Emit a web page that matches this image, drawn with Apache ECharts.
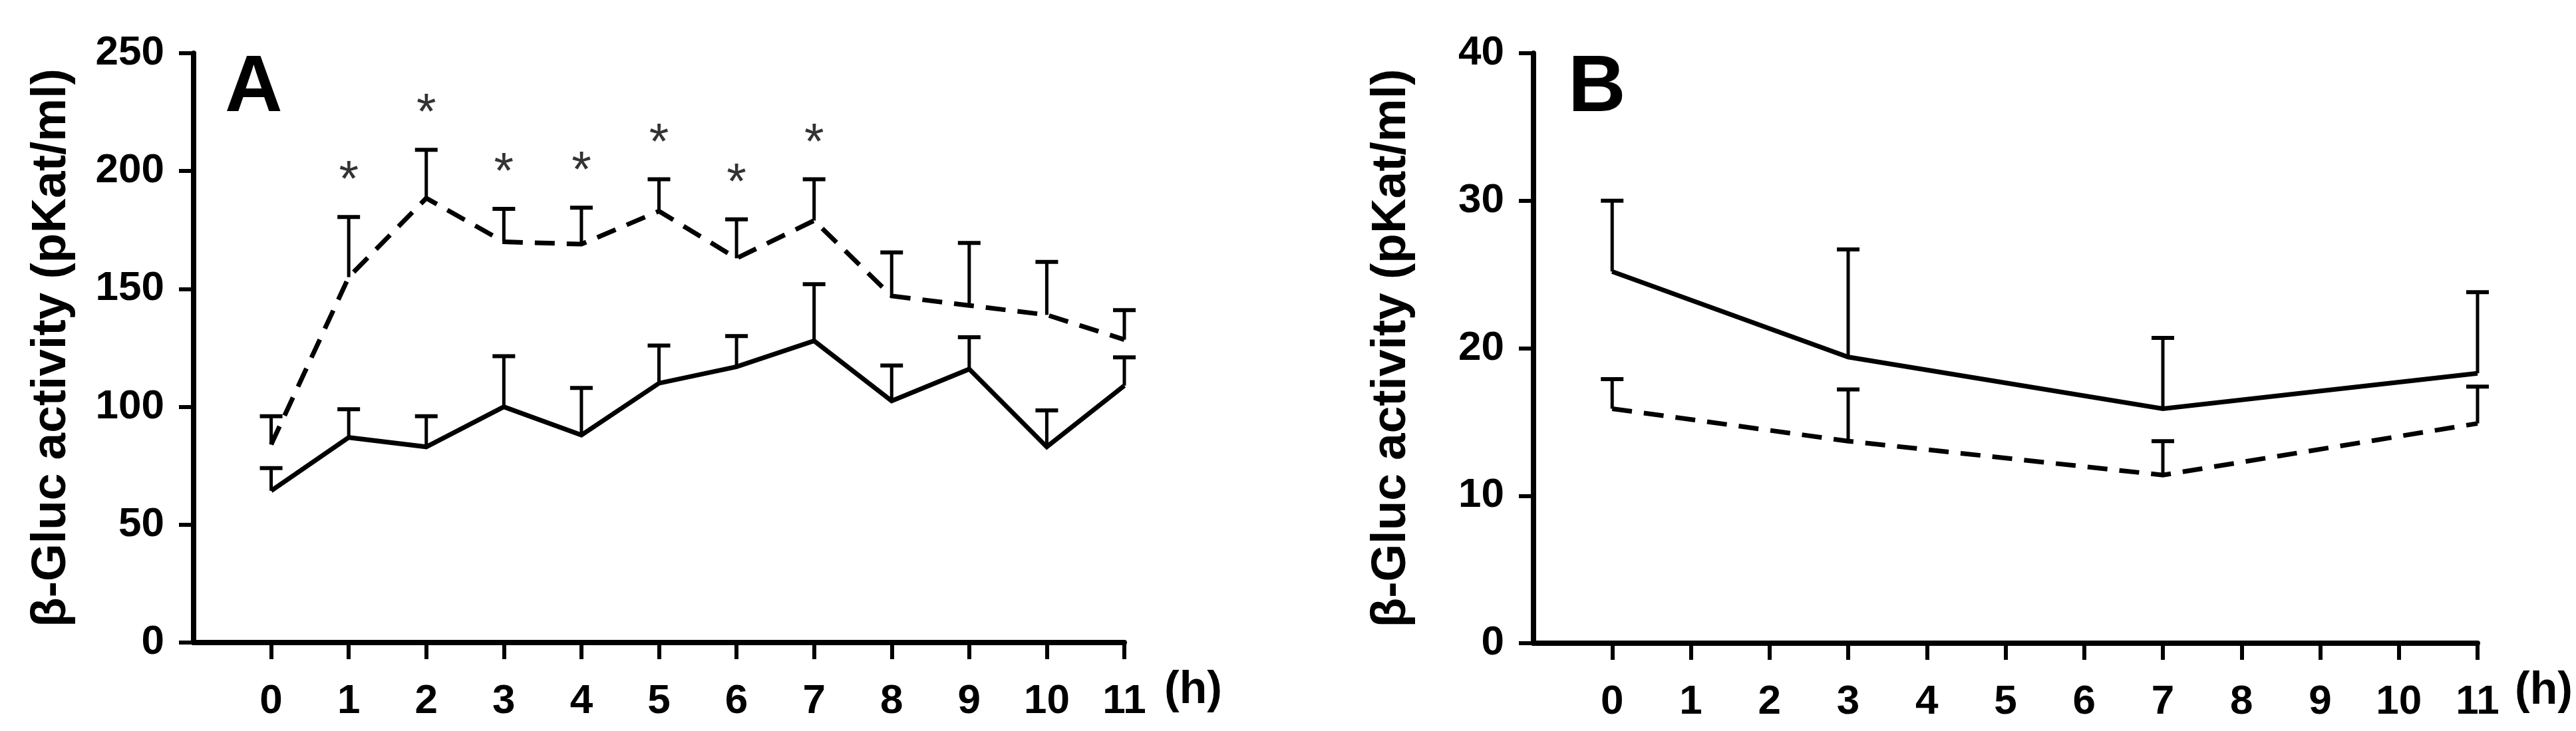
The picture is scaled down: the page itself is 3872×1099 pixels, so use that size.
<!DOCTYPE html>
<html lang="en">
<head>
    <meta charset="UTF-8">
    <title>β-Gluc activity</title>
    <script src="https://cdn.jsdelivr.net/npm/echarts@6/dist/echarts.min.js"></script>
    <style type="text/css">
        html, body { margin: 0; padding: 0; background: #fff; }
        #chart { width: 3872px; height: 1099px; }
    </style>
</head>
<body>
<div id="chart"></div>
<script type="text/javascript">
    // panel A: hourly samples
    var hoursA = [0, 1, 2, 3, 4, 5, 6, 7, 8, 9, 10, 11];
    var aSolidMean = [64.4, 87, 83, 100, 88, 110, 117, 128, 102.5, 116, 83, 109];
    var aSolidSd = [9.6, 12, 13, 21.5, 20, 16, 13, 24, 15, 13.5, 15.5, 12];
    var aDashMean = [84, 155, 188.5, 170, 169, 183, 163, 179, 147, 143, 139, 128.5];
    var aDashSd = [12, 25.5, 20.5, 14, 15.5, 13.5, 16.5, 17.5, 18.5, 26.5, 22.5, 12.5];
    var aStarIdx = [1, 2, 3, 4, 5, 6, 7];

    // panel B: fewer samples
    var hoursB = [0, 3, 7, 11];
    var bSolidMean = [25.2, 19.4, 15.9, 18.3];
    var bSolidSd = [4.8, 7.3, 4.8, 5.5];
    var bDashMean = [15.9, 13.7, 11.4, 14.9];
    var bDashSd = [2.0, 3.5, 2.3, 2.5];

    var xTicks = [0, 1, 2, 3, 4, 5, 6, 7, 8, 9, 10, 11];
    var yMaxA = 250, yStepA = 50;
    var yMaxB = 40, yStepB = 10;
    var yName = 'β-Gluc activity (pKat/ml)';

    var FONT = '"Liberation Sans", Arial, sans-serif';

    function pairs(xs, ys) {
        var out = [];
        for (var i = 0; i < xs.length; i++) out.push([xs[i], ys[i]]);
        return out;
    }
    function triples(xs, ys, sd) {
        var out = [];
        for (var i = 0; i < xs.length; i++) out.push([xs[i], ys[i], sd[i]]);
        return out;
    }

    function errRender(params, api) {
        var x = api.value(0), m = api.value(1), sd = api.value(2);
        var p0 = api.coord([x, m]);
        var p1 = api.coord([x, m + sd]);
        var half = 17;
        return {
            type: 'group',
            children: [
                {type: 'line', shape: {x1: p0[0], y1: p0[1], x2: p1[0], y2: p1[1]}, style: {stroke: '#000', lineWidth: 5}},
                {type: 'line', shape: {x1: p1[0] - half, y1: p1[1], x2: p1[0] + half, y2: p1[1]}, style: {stroke: '#000', lineWidth: 6}}
            ]
        };
    }

    function xAxisItem(gridIndex, gap) {
        return {
            type: 'value',
            gridIndex: gridIndex,
            min: -1,
            max: 11,
            interval: 1,
            splitLine: {show: false},
            axisLine: {onZero: false, lineStyle: {color: '#000', width: 8}},
            axisTick: {show: true, length: 25, customValues: xTicks, lineStyle: {color: '#000', width: 6}},
            axisLabel: {
                customValues: xTicks,
                margin: 58,
                color: '#000',
                fontFamily: FONT,
                fontWeight: 'bold',
                fontSize: 62
            },
            // blank first line pushes "(h)" down to the tick label row
            name: '\n(h)',
            nameLocation: 'end',
            nameGap: gap,
            nameMoveOverlap: false,
            nameTextStyle: {
                color: '#000',
                fontFamily: FONT,
                fontWeight: 'bold',
                fontSize: 68,
                lineHeight: 144,
                verticalAlign: 'middle'
            }
        };
    }

    function yAxisItem(gridIndex, max, step) {
        return {
            type: 'value',
            gridIndex: gridIndex,
            min: 0,
            max: max,
            interval: step,
            splitLine: {show: false},
            axisLine: {show: true, onZero: false, lineStyle: {color: '#000', width: 8}},
            axisTick: {show: true, length: 22, lineStyle: {color: '#000', width: 6}},
            axisLabel: {
                margin: 44,
                color: '#000',
                fontFamily: FONT,
                fontWeight: 'bold',
                fontSize: 62
            },
            name: yName,
            nameLocation: 'middle',
            nameGap: 177,
            nameRotate: 90,
            nameMoveOverlap: false,
            nameTextStyle: {
                color: '#000',
                fontFamily: FONT,
                fontWeight: 'bold',
                fontSize: 73
            }
        };
    }

    function lineItem(idx, data, dashed) {
        return {
            type: 'line',
            xAxisIndex: idx,
            yAxisIndex: idx,
            data: data,
            symbol: 'none',
            z: 3,
            lineStyle: {color: '#000', width: 7, type: dashed ? [30, 18] : 'solid', join: 'miter'}
        };
    }

    function errItem(idx, data) {
        return {
            type: 'custom',
            xAxisIndex: idx,
            yAxisIndex: idx,
            renderItem: errRender,
            encode: {x: 0, y: 1},
            data: data,
            z: 4
        };
    }

    // star marks sit above the dashed error bars
    var starData = [];
    for (var k = 0; k < aStarIdx.length; k++) {
        var j = aStarIdx[k];
        starData.push([hoursA[j], aDashMean[j] + aDashSd[j] + 20]);
    }

    var myChart = echarts.init(document.getElementById('chart'));
    var option = {
        backgroundColor: '#fff',
        animation: false,
        title: [
            {text: 'A', left: 338, top: 74, padding: 0,
                textStyle: {color: '#000', fontFamily: FONT, fontWeight: 'bold', fontSize: 120}},
            {text: 'B', left: 2357, top: 74, padding: 0,
                textStyle: {color: '#000', fontFamily: FONT, fontWeight: 'bold', fontSize: 120}}
        ],
        grid: [
            {left: 291, top: 80, width: 1399, height: 886, outerBoundsMode: 'none'},
            {left: 2305, top: 80, width: 1419, height: 887, outerBoundsMode: 'none'}
        ],
        xAxis: [xAxisItem(0, 60), xAxisItem(1, 56)],
        yAxis: [yAxisItem(0, yMaxA, yStepA), yAxisItem(1, yMaxB, yStepB)],
        series: [
            lineItem(0, pairs(hoursA, aSolidMean), false),
            lineItem(0, pairs(hoursA, aDashMean), true),
            errItem(0, triples(hoursA, aSolidMean, aSolidSd)),
            errItem(0, triples(hoursA, aDashMean, aDashSd)),
            {
                type: 'scatter',
                xAxisIndex: 0,
                yAxisIndex: 0,
                data: starData,
                symbolSize: 1,
                itemStyle: {color: 'rgba(0,0,0,0)'},
                label: {
                    show: true,
                    position: 'inside',
                    offset: [0, 18],
                    formatter: '*',
                    color: '#000',
                    fontFamily: FONT,
                    fontSize: 76
                }
            },
            lineItem(1, pairs(hoursB, bSolidMean), false),
            lineItem(1, pairs(hoursB, bDashMean), true),
            errItem(1, triples(hoursB, bSolidMean, bSolidSd)),
            errItem(1, triples(hoursB, bDashMean, bDashSd))
        ]
    };
    myChart.setOption(option);
</script>
</body>
</html>
